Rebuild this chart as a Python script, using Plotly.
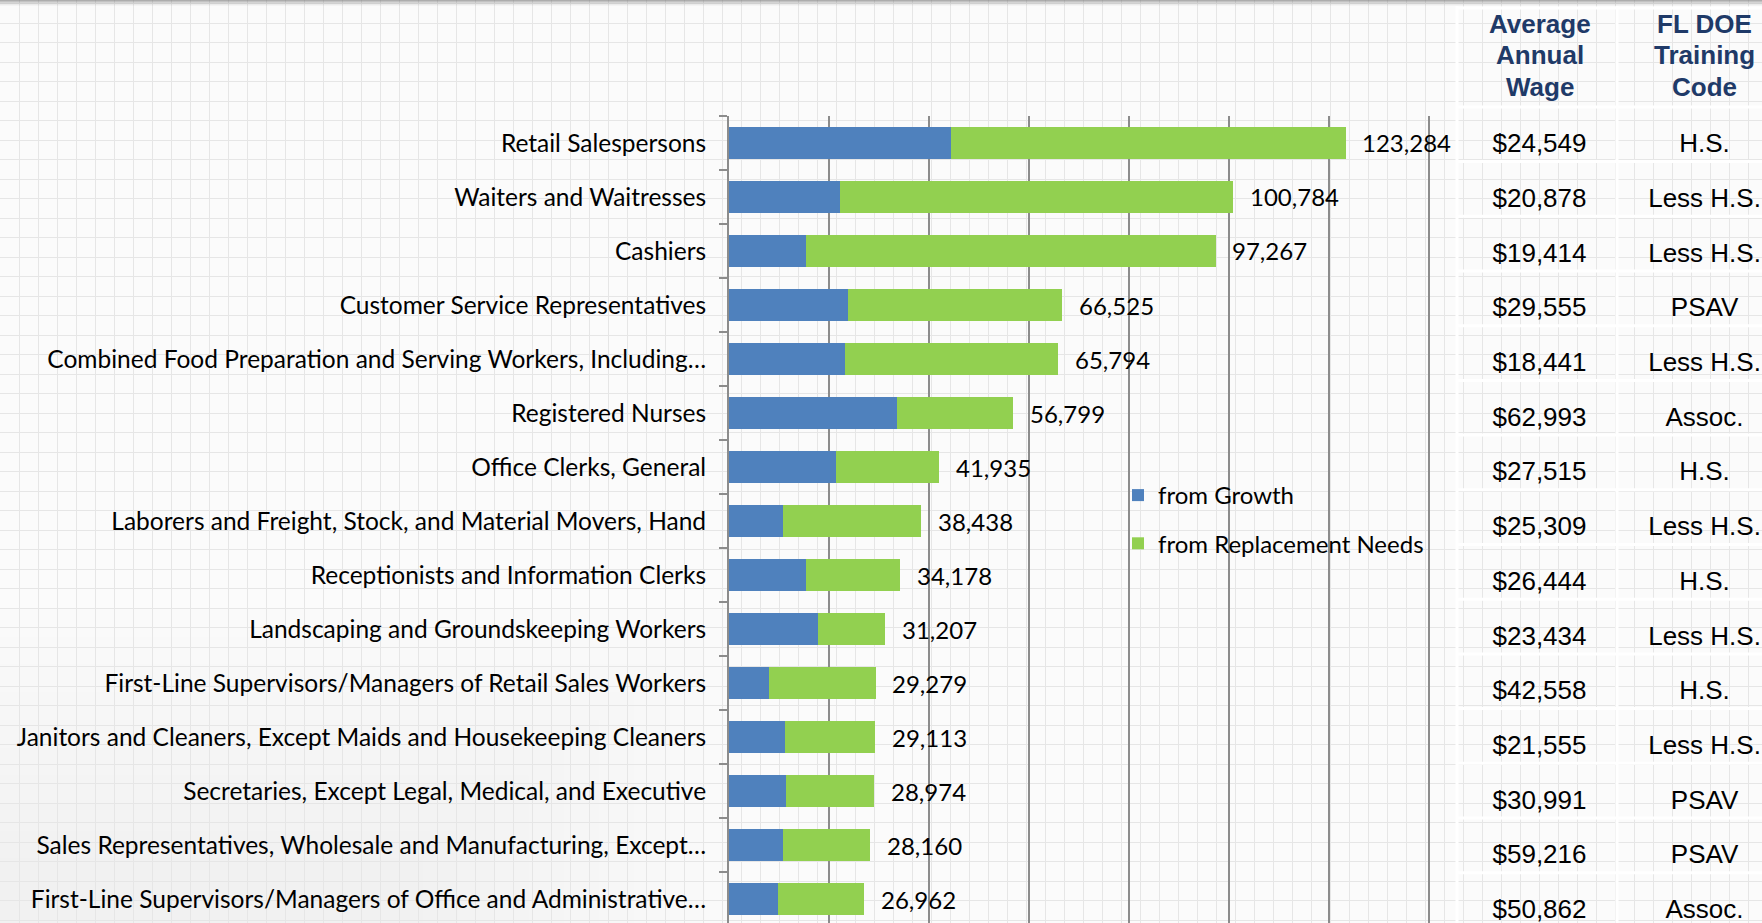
import plotly.graph_objects as go

W, H = 1762, 923

occupations = [
    "Retail Salespersons",
    "Waiters and Waitresses",
    "Cashiers",
    "Customer Service Representatives",
    "Combined Food Preparation and Serving Workers, Including…",
    "Registered Nurses",
    "Office Clerks, General",
    "Laborers and Freight, Stock, and Material Movers, Hand",
    "Receptionists and Information Clerks",
    "Landscaping and Groundskeeping Workers",
    "First-Line Supervisors/Managers of Retail Sales Workers",
    "Janitors and Cleaners, Except Maids and Housekeeping Cleaners",
    "Secretaries, Except Legal, Medical, and Executive",
    "Sales Representatives, Wholesale and Manufacturing, Except…",
    "First-Line Supervisors/Managers of Office and Administrative…",
]
from_growth = [44400, 22200, 15400, 23800, 23100, 33500, 21300, 10800,
               15300, 17700, 7900, 11200, 11400, 10800, 9800]
from_replacement = [78900, 78600, 81900, 42700, 42700, 23300, 20600, 27600,
                    18900, 13500, 21400, 17900, 17600, 17400, 17200]
total_openings = [123284, 100784, 97267, 66525, 65794, 56799, 41935, 38438,
                  34178, 31207, 29279, 29113, 28974, 28160, 26962]
avg_wage = ["$24,549", "$20,878", "$19,414", "$29,555", "$18,441", "$62,993",
            "$27,515", "$25,309", "$26,444", "$23,434", "$42,558", "$21,555",
            "$30,991", "$59,216", "$50,862"]
training_code = ["H.S.", "Less H.S.", "Less H.S.", "PSAV", "Less H.S.", "Assoc.",
                 "H.S.", "Less H.S.", "H.S.", "Less H.S.", "H.S.", "Less H.S.",
                 "PSAV", "PSAV", "Assoc."]
table_headers = [["Average", "Annual", "Wage"], ["FL DOE", "Training", "Code"]]

LABEL_FONT = "Lato"
TABLE_FONT = "Liberation Sans, Arial"
BLUE = "#4F81BD"
GREEN = "#92D050"

fig = go.Figure()

# background graph-paper subplot (x, y)
fig.add_trace(go.Scatter(x=[0], y=[0], mode="markers", marker=dict(opacity=0),
                         showlegend=False, hoverinfo="skip", xaxis="x", yaxis="y"))

# stacked bars (x2, y2)
fig.add_trace(go.Bar(name="from Growth", y=occupations, x=from_growth, orientation="h",
                     marker=dict(color=BLUE, line=dict(width=0)), xaxis="x2", yaxis="y2",
                     legendgroup="g", hoverinfo="skip"))
fig.add_trace(go.Bar(name="from Replacement Needs", y=occupations, x=from_replacement,
                     orientation="h", marker=dict(color=GREEN, line=dict(width=0)),
                     xaxis="x2", yaxis="y2", legendgroup="r", hoverinfo="skip"))

# table text (x3, y3)
rows = list(range(len(occupations)))
fig.add_trace(go.Scatter(x=[0] * len(rows), y=rows, mode="text", text=avg_wage,
                         textfont=dict(family=TABLE_FONT, size=26, color="#000"),
                         showlegend=False, hoverinfo="skip", xaxis="x3", yaxis="y3",
                         cliponaxis=False))
fig.add_trace(go.Scatter(x=[1] * len(rows), y=rows, mode="text", text=training_code,
                         textfont=dict(family=TABLE_FONT, size=26, color="#000"),
                         showlegend=False, hoverinfo="skip", xaxis="x3", yaxis="y3",
                         cliponaxis=False))

annotations = []
for occ, tot in zip(occupations, total_openings):
    annotations.append(dict(x=tot, y=occ, xref="x2", yref="y2", text=f"{tot:,}",
                            showarrow=False, xanchor="left", xshift=15,
                            font=dict(family=LABEL_FONT, size=24, color="#000")))
header_line_rows = [-2.22, -1.65, -1.065]
for i, lines in enumerate(table_headers):
    for ln, yy in zip(lines, header_line_rows):
        annotations.append(dict(x=i, y=yy, xref="x3", yref="y3", text=ln, showarrow=False,
                                xanchor="center", yanchor="middle",
                                font=dict(family=TABLE_FONT, size=26, color="#1F3A68",
                                          weight="bold")))

shapes = []
# soft grey shading toward the lower left of the page
for k in range(10):
    shapes.append(dict(type="rect", xref="paper", yref="paper", x0=0,
                       x1=0.42 - k * 0.02, y0=0, y1=0.34 - k * 0.03, line=dict(width=0),
                       fillcolor="rgba(200,200,200,0.022)", layer="below"))
# top shadow
for k, op in enumerate([0.55, 0.4, 0.28, 0.18, 0.1, 0.05]):
    shapes.append(dict(type="rect", xref="paper", yref="paper", x0=0, x1=1,
                       y0=1 - (k + 1) / H, y1=1 - k / H, line=dict(width=0),
                       fillcolor=f"rgba(110,110,110,{op})", layer="above"))
# table borders
col_edges = [1457 / W, 1617 / W]
for cx in col_edges:
    shapes.append(dict(type="line", xref="paper", yref="paper", x0=cx, x1=cx, y0=0,
                       y1=1 - 6 / H, line=dict(color="white", width=3), layer="above"))
shapes.append(dict(type="line", xref="paper", yref="paper", x0=col_edges[0], x1=1,
                   y0=1 - 8 / H, y1=1 - 8 / H, line=dict(color="white", width=3),
                   layer="above"))
for i in range(-1, len(occupations) - 1):
    shapes.append(dict(type="line", xref="paper", yref="y3", x0=col_edges[0], x1=1,
                       y0=i + 0.29, y1=i + 0.29, line=dict(color="white", width=3),
                       layer="above"))

x0_px, x_px_per = 729, 100 / 20000
xmax = 141000
plot_top = 116

fig.update_layout(
    width=W, height=H,
    margin=dict(l=0, r=0, t=0, b=0),
    paper_bgcolor="#fbfbfb",
    plot_bgcolor="rgba(0,0,0,0)",
    barmode="stack",
    bargap=0.42,
    showlegend=True,
    legend=dict(x=1118 / W, y=1 - 473 / H, xanchor="left", yanchor="top",
                bgcolor="rgba(0,0,0,0)", borderwidth=0, traceorder="grouped",
                tracegroupgap=14, font=dict(family=LABEL_FONT, size=24, color="#000")),
    xaxis=dict(domain=[0, 1], range=[0, W], dtick=19, tick0=0, showgrid=True,
               gridcolor="#e6e6e6", gridwidth=1, showticklabels=False, zeroline=False,
               showline=False, fixedrange=True),
    yaxis=dict(domain=[0, 1], range=[0, H], dtick=19.5, tick0=3, showgrid=True,
               gridcolor="#e6e6e6", gridwidth=1, showticklabels=False, zeroline=False,
               showline=False, fixedrange=True),
    xaxis2=dict(domain=[x0_px / W, (x0_px + xmax * x_px_per) / W], range=[0, xmax],
                anchor="y2", dtick=20000, showgrid=True, gridcolor="#8c8c8c", gridwidth=1.5,
                showticklabels=False, zeroline=False, showline=False, fixedrange=True),
    yaxis2=dict(domain=[0, 1 - plot_top / H], anchor="x2", type="category",
                categoryorder="array", categoryarray=occupations,
                range=[14.444, -0.5], showline=True, linecolor="#8c8c8c", linewidth=2,
                ticks="outside", tickson="boundaries", ticklen=8, tickcolor="#8c8c8c",
                tickwidth=2, ticklabelstandoff=16, automargin=False,
                tickfont=dict(family=LABEL_FONT, size=24.5, color="#000"),
                showgrid=False, zeroline=False, fixedrange=True),
    xaxis3=dict(domain=[1457 / W, 1], range=[-0.5, 1.348], anchor="y3", visible=False,
                fixedrange=True),
    yaxis3=dict(domain=[0, 1], range=[14.21, -2.664], anchor="x3", visible=False,
                fixedrange=True),
    annotations=annotations,
    shapes=shapes,
)

fig.write_html("out.html", config={"displayModeBar": False, "staticPlot": True})

# remove the browser's default page margin so the figure fills the window exactly
with open("out.html", "r", encoding="utf-8") as f:
    html = f.read()
html = html.replace("<head>", "<head><style>html,body{margin:0;padding:0;overflow:hidden;}</style>", 1)
with open("out.html", "w", encoding="utf-8") as f:
    f.write(html)
